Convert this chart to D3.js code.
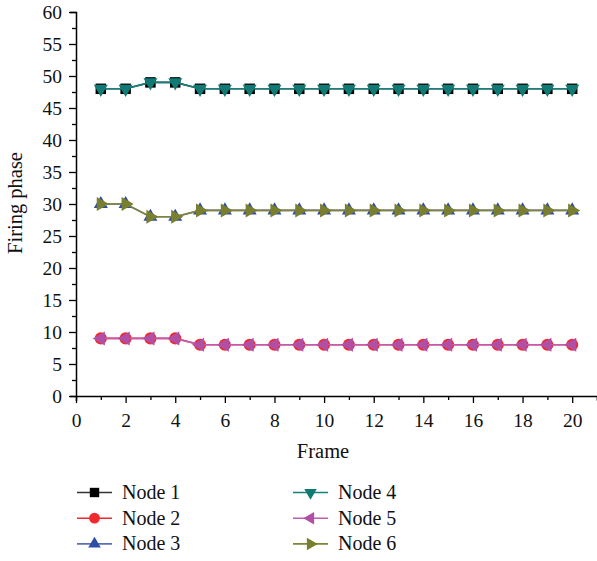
<!DOCTYPE html>
<html>
<head>
<meta charset="utf-8">
<script src="https://cdn.jsdelivr.net/npm/d3@7"></script>
<style>
  body { margin: 0; background: #fff; }
  svg { display: block; font-family: "Liberation Serif", "DejaVu Serif", serif; }
</style>
</head>
<body>
<svg id="chart" width="597" height="561"></svg>
<script>
const frames = d3.range(1, 21);
const node1 = [48, 48, 49, 49, 48, 48, 48, 48, 48, 48, 48, 48, 48, 48, 48, 48, 48, 48, 48, 48];
const node2 = [9, 9, 9, 9, 8, 8, 8, 8, 8, 8, 8, 8, 8, 8, 8, 8, 8, 8, 8, 8];
const node3 = [30, 30, 28, 28, 29, 29, 29, 29, 29, 29, 29, 29, 29, 29, 29, 29, 29, 29, 29, 29];
const node4 = [48, 48, 49, 49, 48, 48, 48, 48, 48, 48, 48, 48, 48, 48, 48, 48, 48, 48, 48, 48];
const node5 = [9, 9, 9, 9, 8, 8, 8, 8, 8, 8, 8, 8, 8, 8, 8, 8, 8, 8, 8, 8];
const node6 = [30, 30, 28, 28, 29, 29, 29, 29, 29, 29, 29, 29, 29, 29, 29, 29, 29, 29, 29, 29];
const xTicks = [0, 2, 4, 6, 8, 10, 12, 14, 16, 18, 20];
const yTicks = [0, 5, 10, 15, 20, 25, 30, 35, 40, 45, 50, 55, 60];

const series = [
  { name: "Node 1", values: node1, line: "#333333", fill: "#000000", sym: d3.symbolSquare, rot: 0 },
  { name: "Node 2", values: node2, line: "#ee2a2e", fill: "#ee2a2e", sym: d3.symbolCircle, rot: 0 },
  { name: "Node 3", values: node3, line: "#5b6fb5", fill: "#2e4ea6", sym: d3.symbolTriangle, rot: 0 },
  { name: "Node 4", values: node4, line: "#17807a", fill: "#127a74", sym: d3.symbolTriangle, rot: 180 },
  { name: "Node 5", values: node5, line: "#c05db3", fill: "#b04fa5", sym: d3.symbolTriangle, rot: -90 },
  { name: "Node 6", values: node6, line: "#7f8438", fill: "#7a7f30", sym: d3.symbolTriangle, rot: 90 }
];

const svg = d3.select("#chart");
const x = d3.scaleLinear().domain([0, 21]).range([76, 597]);
const y = d3.scaleLinear().domain([0, 60]).range([396, 12]);

// axes
const xAxis = svg.append("g").attr("transform", "translate(0,396)");
xAxis.call(d3.axisBottom(x).tickValues(d3.range(0, 22)).tickSize(5).tickFormat(d => xTicks.includes(d) ? d : ""));
xAxis.selectAll(".tick line").attr("y2", d => xTicks.includes(d) ? 7 : 4);
const yAxis = svg.append("g").attr("transform", "translate(76,0)");
yAxis.call(d3.axisLeft(y).tickValues(d3.range(0, 61, 2.5)).tickFormat(d => yTicks.includes(d) ? d : ""));
yAxis.selectAll(".tick line").attr("x2", d => yTicks.includes(d) ? -7 : -4);
svg.selectAll(".domain").attr("stroke", "#000").attr("stroke-width", 1.5);
svg.selectAll(".tick line").attr("stroke", "#000").attr("stroke-width", 1.3);
svg.selectAll(".tick text").attr("font-size", 19.5).attr("fill", "#111")
  .attr("font-family", "Liberation Serif, DejaVu Serif, serif");
xAxis.selectAll(".tick text").attr("y", 31).attr("dy", 0);
yAxis.selectAll(".tick text").attr("x", -14).attr("dy", "0.34em");

svg.append("text").attr("x", 323).attr("y", 458).attr("text-anchor", "middle")
  .attr("font-size", 20.5).attr("fill", "#111").text("Frame");
svg.append("text").attr("transform", "translate(22,203) rotate(-90)").attr("text-anchor", "middle")
  .attr("font-size", 20.5).attr("fill", "#111").text("Firing phase");

const line = d3.line().x((d, i) => x(frames[i])).y(d => y(d));
const sizeOf = s => s.sym === d3.symbolCircle ? 115 : s.sym === d3.symbolSquare ? 110 : 85;

series.forEach(s => {
  svg.append("path").datum(s.values).attr("d", line)
    .attr("fill", "none").attr("stroke", s.line).attr("stroke-width", 1.6);
  svg.append("g").selectAll("path").data(s.values).join("path")
    .attr("d", d3.symbol().type(s.sym).size(sizeOf(s)))
    .attr("transform", (d, i) => `translate(${x(frames[i])},${y(d)}) rotate(${s.rot})`)
    .attr("fill", s.fill);
});

// legend
const legend = svg.append("g");
series.forEach((s, i) => {
  const col = Math.floor(i / 3), row = i % 3;
  const lx = 77 + col * 216, ly = 492.5 + row * 25.7;
  const g = legend.append("g").attr("transform", `translate(${lx},${ly})`);
  g.append("line").attr("x1", 0).attr("x2", 35).attr("stroke", s.line).attr("stroke-width", 1.6);
  g.append("path").attr("d", d3.symbol().type(s.sym).size(sizeOf(s) * 0.8))
    .attr("transform", `translate(17.5,0) rotate(${s.rot})`).attr("fill", s.fill);
  g.append("text").attr("x", 45).attr("y", 6.5).attr("font-size", 20).attr("fill", "#111").text(s.name);
});
</script>
</body>
</html>
